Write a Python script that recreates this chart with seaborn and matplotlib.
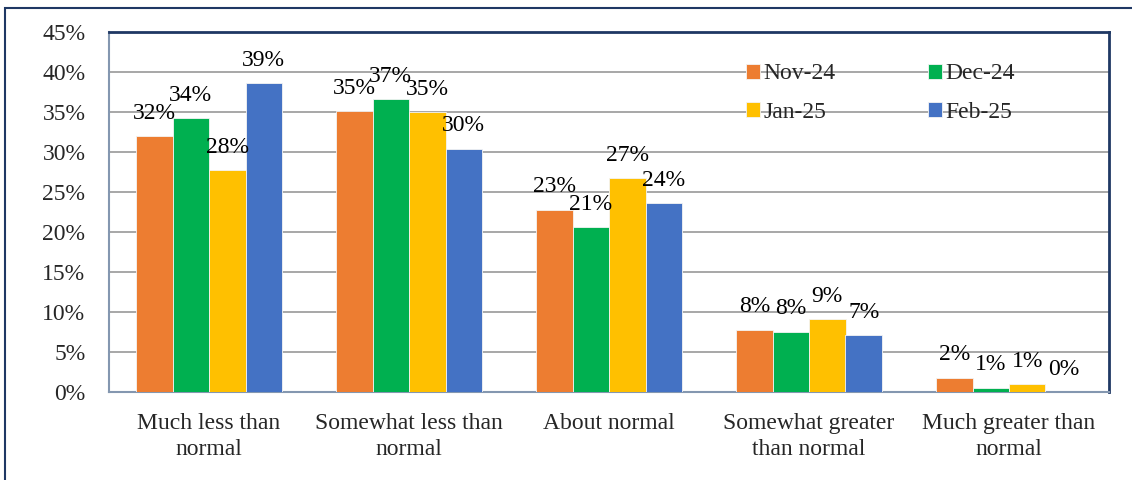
import pandas as pd
import matplotlib
matplotlib.use("Agg")
import matplotlib.pyplot as plt
import seaborn as sns
from matplotlib.patches import Rectangle
from matplotlib.ticker import FixedLocator

# Data (percent)
categories = ["Much less than\nnormal", "Somewhat less than\nnormal", "About normal",
              "Somewhat greater\nthan normal", "Much greater than\nnormal"]
months = ["Nov-24", "Dec-24", "Jan-25", "Feb-25"]
nov_24 = [32.0, 35.1, 22.8, 7.8, 1.8]
dec_24 = [34.25, 36.6, 20.6, 7.55, 0.55]
jan_25 = [27.75, 34.96, 26.7, 9.1, 0.95]
feb_25 = [38.6, 30.4, 23.6, 7.1, 0.0]
colors = ["#ED7D31", "#00B050", "#FFC000", "#4472C4"]

rows = []
for month, vals in zip(months, [nov_24, dec_24, jan_25, feb_25]):
    for cat, v in zip(categories, vals):
        rows.append({"category": cat, "month": month, "value": v})
df = pd.DataFrame(rows)

FS = 17
sns.set_style("white")
plt.rcParams["font.family"] = ["Liberation Serif", "DejaVu Serif"]
plt.rcParams["font.size"] = FS

fig = plt.figure(figsize=(11.32, 4.8), dpi=100)
ax = fig.add_axes([109 / 1132, 88 / 480, 1000 / 1132, 360 / 480])

sns.barplot(data=df, x="category", y="value", hue="month", order=categories,
            hue_order=months, palette=colors, width=0.73, gap=0, saturation=1,
            errorbar=None, ax=ax, zorder=3, linewidth=0.6, edgecolor="#f4f4f4")

# Value labels above each bar
for cont in ax.containers:
    for bar in cont:
        h = bar.get_height()
        ax.annotate(f"{h:.0f}%", (bar.get_x() + bar.get_width() / 2, h),
                    xytext=(0, 16.5), textcoords="offset points",
                    ha="center", va="center", fontsize=FS, color="black", zorder=4)

ax.set_xlim(-0.5, 4.5)
ax.set_ylim(0, 45)
ax.set_yticks(range(0, 50, 5))
ax.set_yticklabels([f"{t}%" for t in range(0, 50, 5)])
ax.yaxis.grid(True, color="#A0A0A0", linewidth=1.3, zorder=0)
ax.set_axisbelow(True)

ax.set_xticks(range(5))
ax.set_xticklabels(categories, linespacing=1.35)
ax.tick_params(axis="x", which="major", length=0, pad=15)
ax.xaxis.set_minor_locator(FixedLocator([i - 0.5 for i in range(6)]))
ax.tick_params(axis="x", which="minor", length=6, width=1.2, color="#8497B0", direction="out")
ax.tick_params(axis="y", length=6, width=1.2, color="#8497B0", direction="out", pad=11)
ax.set_xlabel("")
ax.set_ylabel("")

for side in ["left", "bottom"]:
    ax.spines[side].set_color("#8497B0")
    ax.spines[side].set_linewidth(1.5)
for side in ["top", "right"]:
    ax.spines[side].set_color("#1F3864")
    ax.spines[side].set_linewidth(2)

# legend filled row by row: Nov, Dec / Jan, Feb
handles, labels = ax.get_legend_handles_labels()
order = [0, 2, 1, 3]
ax.legend([handles[i] for i in order], [labels[i] for i in order], ncol=2,
          loc="upper left", bbox_to_anchor=(0.618, 0.965), frameon=False,
          fontsize=FS, handlelength=0.6, handleheight=0.6, handletextpad=0.15,
          columnspacing=3.9, labelspacing=0.75, borderpad=0.3)

# outer chart border (partly cut off at right and bottom)
fig.add_artist(Rectangle((4.5 / 1132, -0.05), 1.1, 472 / 480 + 0.05,
                         transform=fig.transFigure, fill=False, edgecolor="#1F3864",
                         linewidth=1.5))

fig.savefig("out.png", dpi=100)
